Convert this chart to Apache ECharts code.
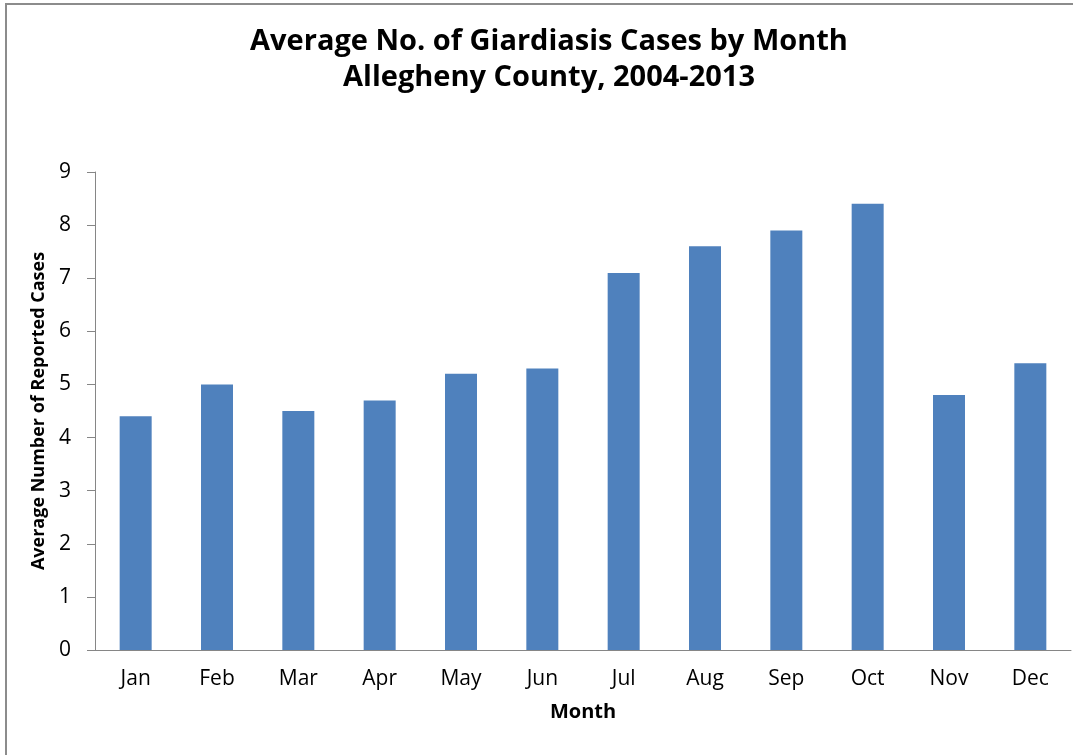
<!DOCTYPE html>
<html>
<head>
<meta charset="UTF-8">
<title>Giardiasis by Month</title>
<script src="https://cdn.jsdelivr.net/npm/echarts@6/dist/echarts.min.js"></script>
<style>
  html, body { margin: 0; padding: 0; background: #fff; }
  #main { width: 1073px; height: 755px; }
</style>
</head>
<body>
<div id="main"></div>
<script type="text/javascript">
  // monthly averages
  var months = ['Jan', 'Feb', 'Mar', 'Apr', 'May', 'Jun', 'Jul', 'Aug', 'Sep', 'Oct', 'Nov', 'Dec'];
  var avgCases = [4.4, 5.0, 4.5, 4.7, 5.2, 5.3, 7.1, 7.6, 7.9, 8.4, 4.8, 5.4];

  var font = 'Open Sans';
  var axisGray = '#868686';

  var myChart = echarts.init(document.getElementById('main'));

  var option = {
    backgroundColor: '#fff',
    animation: false,
    title: {
      text: 'Average No. of Giardiasis Cases by Month\nAllegheny County, 2004-2013',
      left: 544,
      textAlign: 'center',
      top: 19,
      textStyle: {
        fontFamily: font,
        fontSize: 29,
        fontWeight: 'bold',
        color: '#000',
        lineHeight: 36
      }
    },
    graphic: [{
      type: 'rect',
      shape: { x: 6, y: 4, width: 1100, height: 800 },
      style: { fill: 'none', stroke: '#8c8c8c', lineWidth: 2 },
      silent: true
    }],
    grid: {
      left: 95,
      right: 2,
      top: 172,
      bottom: 105
    },
    xAxis: {
      type: 'category',
      data: months,
      name: 'Month',
      nameLocation: 'middle',
      nameGap: 52,
      nameTextStyle: { fontFamily: font, fontSize: 20, fontWeight: 'bold', color: '#000' },
      axisLine: { lineStyle: { color: axisGray, width: 1 } },
      axisTick: { length: 6, lineStyle: { color: axisGray } },
      axisLabel: { fontFamily: font, fontSize: 21, color: '#000', margin: 19 }
    },
    yAxis: {
      type: 'value',
      min: 0,
      max: 9,
      interval: 1,
      name: 'Average Number of Reported Cases',
      nameLocation: 'middle',
      nameGap: 46,
      nameTextStyle: { fontFamily: font, fontSize: 18, fontWeight: 'bold', color: '#000' },
      axisLine: { show: true, lineStyle: { color: axisGray, width: 1 } },
      axisTick: { show: true, length: 8, lineStyle: { color: axisGray } },
      axisLabel: { fontFamily: font, fontSize: 21, color: '#000', margin: 24 },
      splitLine: { show: false }
    },
    series: [{
      type: 'bar',
      data: avgCases,
      barWidth: 32,
      itemStyle: { color: '#4f81bd' }
    }]
  };

  myChart.setOption(option);
</script>
</body>
</html>
